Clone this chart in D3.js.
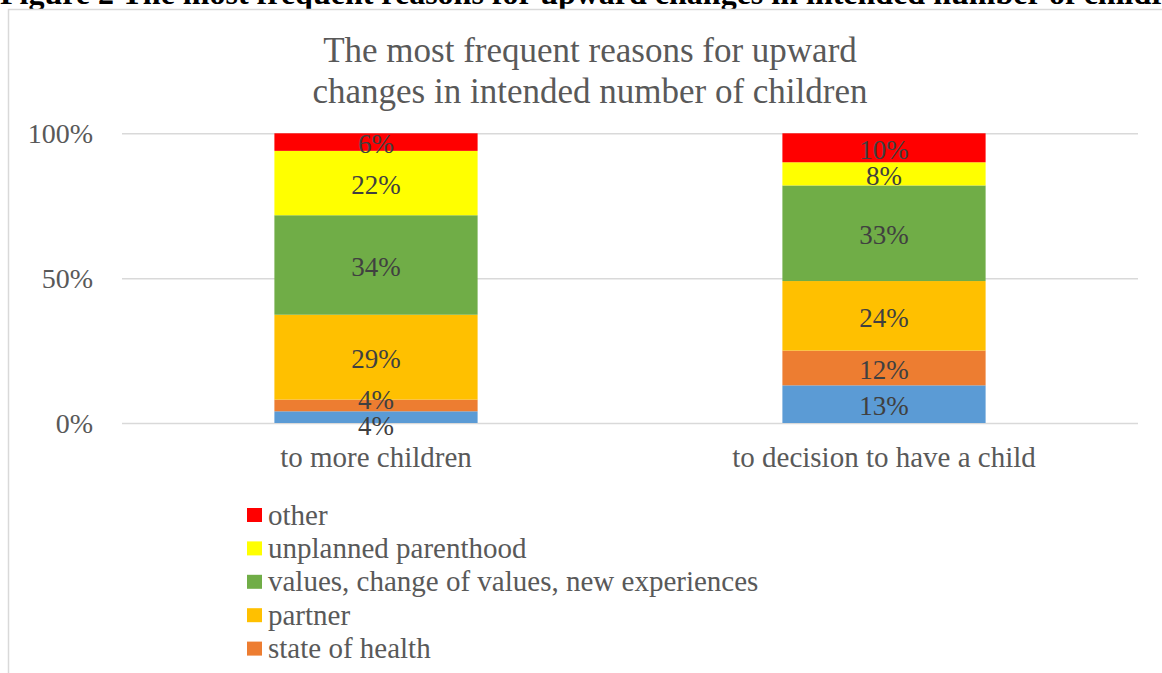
<!DOCTYPE html>
<html>
<head>
<meta charset="utf-8">
<script src="https://cdn.jsdelivr.net/npm/d3@7"></script>
<style>
  body { margin: 0; background: #fff; }
  svg { display: block; font-family: "Liberation Serif", "Times New Roman", serif; }
</style>
</head>
<body>
<svg class="root"></svg>
<script>
var categories = ["to more children", "to decision to have a child"];

// bottom to top, same order as the stack
var seriesNames = ["economic situation", "state of health", "partner",
  "values, change of values, new experiences", "unplanned parenthood", "other"];
var seriesColors = ["#5B9BD5", "#ED7D31", "#FFC000", "#70AD47", "#FFFF00", "#FF0000"];

var economicValues = [4, 13];
var healthValues = [4, 12];
var partnerValues = [29, 24];
var valuesValues = [34, 33];
var unplannedValues = [22, 8];
var otherValues = [6, 10];

var yTicks = [0, 0.5, 1];

var seriesValues = [economicValues, healthValues, partnerValues, valuesValues, unplannedValues, otherValues];

var rows = categories.map(function (c, i) {
  var r = { category: c };
  seriesNames.forEach(function (s, j) { r[s] = seriesValues[j][i]; });
  return r;
});

var W = 1162, H = 673;
var margin = { top: 133.3, right: 24, bottom: 250, left: 122 },
  width = 1138 - margin.left,
  height = 423 - margin.top;

var svg = d3.select(".root").attr("width", W).attr("height", H);

// figure caption, cut by the page top and hidden under the chart box
svg.append("text")
  .attr("x", 0)
  .attr("y", 4)
  .style("font-weight", "bold")
  .style("font-size", "32px")
  .attr("fill", "#000")
  .text("Figure 2 The most frequent reasons for upward changes in intended number of children");

// chart box
svg.append("rect")
  .attr("x", 8.5).attr("y", 9.5)
  .attr("width", 1200).attr("height", 700)
  .attr("fill", "#fff")
  .attr("stroke", "#d9d9d9")
  .attr("stroke-width", 1.5);

var title = svg.append("text")
  .attr("text-anchor", "middle")
  .attr("fill", "#595959")
  .style("font-size", "35px");
title.append("tspan").attr("x", 590).attr("y", 62).text("The most frequent reasons for upward");
title.append("tspan").attr("x", 590).attr("y", 103).text("changes in intended number of children");

var chart = svg.append("g")
  .attr("transform", "translate(" + margin.left + "," + margin.top + ")");

var x = d3.scaleBand()
  .domain(categories)
  .range([0, width])
  .paddingInner(0.6)
  .paddingOuter(0.3);

var y = d3.scaleLinear()
  .domain([0, 1])
  .range([height, 0]);

var yAxis = chart.append("g")
  .attr("class", "y axis")
  .call(d3.axisLeft(y).tickValues(yTicks).tickFormat(d3.format(".0%"))
    .tickSizeInner(-width).tickSizeOuter(0).tickPadding(29));
yAxis.select(".domain").remove();
yAxis.selectAll("line").attr("stroke", "#d9d9d9").attr("stroke-width", 1.5);
yAxis.selectAll("text")
  .attr("fill", "#595959")
  .style("font-size", "28px")
  .style("font-family", "Liberation Serif")
  .attr("dy", "0.33em");

var xAxis = chart.append("g")
  .attr("class", "x axis")
  .attr("transform", "translate(0," + height + ")")
  .call(d3.axisBottom(x).tickSize(0).tickPadding(23.5));
xAxis.select(".domain").remove();
xAxis.selectAll("text")
  .attr("fill", "#595959")
  .style("font-size", "29px")
  .style("font-family", "Liberation Serif");

var stacked = d3.stack().keys(seriesNames).offset(d3.stackOffsetExpand)(rows);

var layers = chart.selectAll(".layer")
  .data(stacked)
  .enter().append("g")
  .attr("class", "layer")
  .attr("fill", function (d, i) { return seriesColors[i]; });

layers.selectAll("rect")
  .data(function (d) { return d; })
  .enter().append("rect")
  .attr("x", function (d) { return x(d.data.category); })
  .attr("y", function (d) { return y(d[1]); })
  .attr("height", function (d) { return y(d[0]) - y(d[1]); })
  .attr("width", x.bandwidth());

// data labels, pushed apart where segments are too thin
var labels = [];
stacked.forEach(function (layer, si) {
  layer.forEach(function (d) {
    labels.push({
      category: d.data.category,
      value: seriesValues[si][categories.indexOf(d.data.category)],
      cy: (y(d[0]) + y(d[1])) / 2
    });
  });
});
var minGap = 26;
categories.forEach(function (c) {
  var ls = labels.filter(function (l) { return l.category === c; });
  for (var k = 0; k < 10; k++) {
    for (var i = 1; i < ls.length; i++) {
      var gap = ls[i - 1].cy - ls[i].cy;
      if (gap < minGap) {
        var shift = (minGap - gap) / 2;
        ls[i - 1].cy += shift;
        ls[i].cy -= shift;
      }
    }
  }
});

chart.selectAll(".label")
  .data(labels)
  .enter().append("text")
  .attr("class", "label")
  .attr("text-anchor", "middle")
  .attr("fill", "#404040")
  .style("font-size", "27px")
  .attr("x", function (d) { return x(d.category) + x.bandwidth() / 2; })
  .attr("y", function (d) { return d.cy; })
  .attr("dy", "0.4em")
  .text(function (d) { return d.value + "%"; });

// legend, top item is the last series
var legendItems = seriesNames.map(function (s, i) { return { name: s, color: seriesColors[i] }; }).reverse();
var legend = svg.selectAll(".legend")
  .data(legendItems)
  .enter().append("g")
  .attr("class", "legend")
  .attr("transform", function (d, i) { return "translate(247," + (515 + i * 33.4) + ")"; });
legend.append("rect")
  .attr("y", -7)
  .attr("width", 15)
  .attr("height", 14)
  .attr("fill", function (d) { return d.color; });
legend.append("text")
  .attr("x", 21)
  .attr("dy", "0.33em")
  .attr("fill", "#595959")
  .style("font-size", "29px")
  .text(function (d) { return d.name; });
</script>
</body>
</html>
